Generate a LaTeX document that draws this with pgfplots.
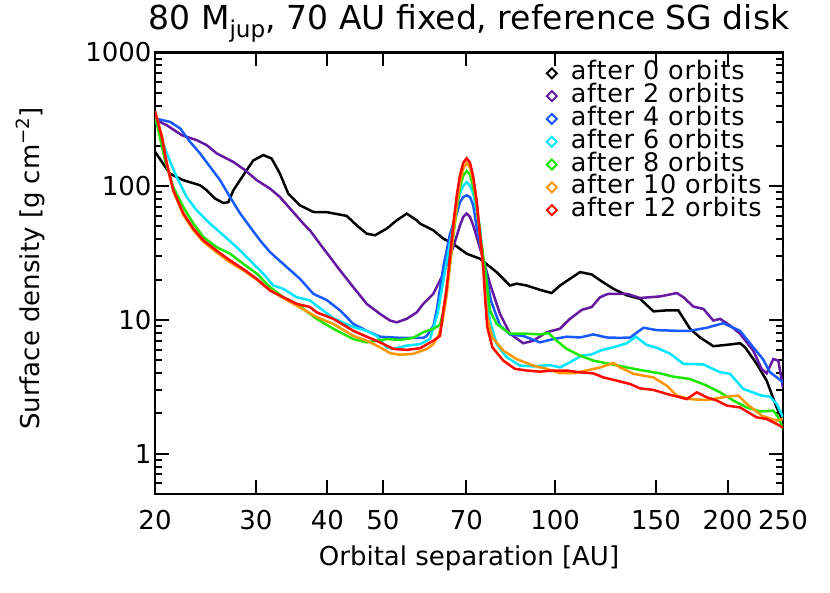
\documentclass[border=0pt]{standalone}
\usepackage{fontspec}
\setmainfont{DejaVu Sans}
\newfontfamily\legfont[LetterSpace=3]{DejaVu Sans}
\usepackage{pgfplots}
\pgfplotsset{compat=1.18}
\definecolor{cpurple}{RGB}{100,25,160}
\definecolor{cblue}{RGB}{25,90,255}
\definecolor{ccyan}{RGB}{0,230,255}
\definecolor{cgreen}{RGB}{30,230,0}
\definecolor{corange}{RGB}{255,150,0}
\definecolor{cred}{RGB}{255,10,0}
\begin{document}
\begin{tikzpicture}
\begin{axis}[
 scale only axis, width=628pt, height=441.5pt,
 xmode=log, ymode=log,
 xmin=20, xmax=250, ymin=0.5, ymax=1000,
 xtick={20,30,40,50,70,100,150,200,250},
 xticklabels={20,30,40,50,70,100,150,200,250},
 ytick={1,10,100,1000}, yticklabels={1,10,100,1000},
 minor ytick={0.5,0.6,0.7,0.8,0.9,2,3,4,5,6,7,8,9,20,30,40,50,60,70,80,90,200,300,400,500,600,700,800,900},
 xminorticks=false,
 tick align=inside, xtick pos=both, ytick pos=both,
 major tick length=14pt, minor tick length=7pt,
 tick style={black, line width=2pt},
 axis line style={line width=2.5pt},
 tick label style={font=\fontsize{26}{26}\selectfont},
 xticklabel style={anchor=base, yshift=-36pt},
 title={80 M\textsubscript{jup}, 70 AU fixed, reference SG disk},
 title style={font=\fontsize{33}{33}\selectfont, at={(axis description cs:0.5,1.0396)}, anchor=base},
 xlabel={Orbital separation [AU]},
 xlabel style={font=\fontsize{26}{26}\selectfont, at={(axis description cs:0.5,-0.163)}, anchor=base},
 ylabel={Surface density [g cm\textsuperscript{−2}]},
 ylabel style={font=\fontsize{26}{26}\selectfont, at={(axis description cs:-0.1847,0.511)}, anchor=base, rotate=0},
 legend style={draw=none, fill=none, at={(0.622,0.979)}, anchor=north west, inner sep=0pt,
   font=\legfont\fontsize{25.5}{25.5}\selectfont, nodes={inner sep=1pt, text height=17pt, text depth=3.8pt},
   /tikz/every odd column/.append style={column sep=12pt}},
 legend cell align=left,
 legend image code/.code={\draw[#1, line width=2pt, fill=none] (0pt,5pt) -- (5pt,0pt) -- (0pt,-5pt) -- (-5pt,0pt) -- cycle;},
 every axis plot/.append style={line width=2.5pt, mark=none},
]
% after 0 orbits
\addplot[black] coordinates {
(20,181)(21.24,124)(22.41,111)(23.97,101.7)(24.62,93.3)(25.46,80.9)(26.32,75)(26.86,76)(27.40,93)(28.15,111)(28.92,132)(29.70,156)(30.92,171)(31.98,161)(33.06,124)(34.18,88)(35.84,72)(37.80,64.2)(39.89,64)(43.24,60)(45.01,51)(46.86,44.2)(48.45,43)(50.79,48.2)(52.87,55.6)(55.04,62.4)(57.30,55.6)(58.06,52.6)(61.26,46.8)(63.77,40.6)(66.38,37)(70.05,31.3)(73.89,28.7)(79.03,22.8)(83.38,18.1)(85.65,18.7)(89.16,18.1)(94.07,16.8)(98.60,15.9)(101.96,18.1)(106.1,20.3)(110.5,22.8)(115.8,21.9)(119.8,19.8)(126.4,17.1)(133.4,15.3)(140.7,14.4)(148.5,11.6)(156.6,11.8)(164.1,11.8)(172.0,8.6)(179.1,7.4)(188.9,6.37)(199.4,6.52)(210.3,6.7)(214.6,6.25)(224.9,4.7)(234.1,3.52)(243.7,2.22)(250,1.75)
};
% after 2 orbits
\addplot[cpurple] coordinates {
(20,315)(20.96,286)(22.27,241)(23.65,221)(24.62,203)(25.63,176)(27.40,152)(28.72,132)(30.11,111)(31.76,96)(33.06,83)(34.65,66)(36.31,52.6)(37.30,46.8)(38.84,37)(40.43,29.5)(42.09,23.5)(44.40,17.6)(46.86,13.2)(49.44,11.1)(51.47,9.9)(52.87,9.6)(55.04,10.2)(57.30,11.4)(58.84,13.2)(61.26,15.7)(63.77,22.2)(66.38,35)(68.19,51)(69.1,59)(70.05,62.5)(71.0,59)(71.93,51)(74.40,31.3)(76.93,18.7)(80.09,11.1)(83.38,7.9)(87.95,6.7)(91.56,7.0)(96.64,8.1)(101.96,8.6)(106.1,10.2)(111.3,11.9)(115.8,12.5)(119.8,14.8)(123.8,15.7)(133.4,15.7)(140.7,14.6)(152.5,15.0)(163.1,15.9)(167.5,14.8)(174.3,12.6)(181.5,12.1)(188.9,9.9)(194.1,10.2)(202.0,9.1)(210.3,7.9)(221.8,5.9)(229.4,4.31)(234.1,3.99)(240.4,5.1)(245.3,4.97)(250,3.1)
};
% after 4 orbits
\addplot[cblue] coordinates {
(20,321)(21.24,303)(22.12,271)(23.02,215)(23.97,176)(24.95,140)(25.98,111)(27.04,83)(28.15,62.8)(29.31,49.6)(30.51,39.4)(31.76,32.2)(33.96,24.9)(35.84,20.3)(37.80,15.7)(39.89,14.1)(42.09,11.8)(44.40,9.35)(46.86,8.3)(49.44,7.5)(53.58,7.35)(58.84,7.35)(59.66,7.6)(61.26,9)(62.10,11.8)(63.77,24.9)(65.51,44.2)(67.3,62)(68.19,76)(69.1,83)(70.05,85.5)(71.0,83)(71.93,72)(72.92,49.6)(75.39,24.9)(77.2,14)(80.09,9.1)(83.38,7.8)(87.95,7.6)(94.07,6.8)(99.24,7.2)(104.74,7.5)(110.5,7.4)(116.6,7.8)(123.0,7.4)(129.8,7.35)(135.2,7.4)(142.6,8.75)(150.4,8.4)(163.1,8.3)(172.0,8.3)(184.0,8.75)(196.7,9.46)(210.3,8.3)(221.8,6.25)(230.6,5.1)(237.2,4.07)(243.7,3.73)(250,3.42)
};
% after 6 orbits
\addplot[ccyan] coordinates {
(20,320)(20.96,176)(21.82,117)(22.72,83)(23.65,66)(24.95,52.6)(26.32,43)(27.78,35)(29.31,27.9)(30.92,22.2)(32.18,18.1)(33.50,17.1)(35.36,14.8)(37.30,14.0)(38.32,12.8)(40.97,10.3)(44.40,8.85)(46.86,8.3)(48.78,7.6)(50.79,6.25)(52.16,6.08)(55.04,6.43)(58.06,6.6)(60.45,7.2)(62.3,11.1)(64.4,24.9)(66.38,52)(67.3,72)(68.19,88)(69.1,101)(70.05,107)(71.0,101)(71.93,88)(73.89,49.6)(75.39,18.7)(76.93,9.9)(79.03,6.6)(82.27,5.27)(86.80,4.56)(91.56,4.5)(97.93,4.6)(101.96,4.42)(106.1,4.83)(111.3,5.42)(115.8,5.52)(119.8,5.9)(126.4,6.25)(133.4,6.7)(138.3,7.5)(144.6,6.5)(150.4,6.2)(158.7,5.6)(167.5,4.7)(181.5,4.65)(194.1,4.07)(202.0,3.96)(213.1,3.05)(229.4,2.72)(237.2,2.67)(243.7,2.36)(250,1.87)
};
% after 8 orbits
\addplot[cgreen] coordinates {
(20,340)(20.82,156)(21.53,98)(22.41,70)(23.33,52.6)(24.29,41.7)(25.63,35)(27.04,31.3)(28.53,26.3)(30.11,22.2)(31.76,17.6)(33.50,14.8)(35.36,13.2)(38.32,10.2)(40.97,8.6)(44.40,7.2)(46.86,6.8)(48.78,7.0)(50.79,7.2)(53.58,7.1)(56.52,7.35)(58.84,8.1)(61.26,8.6)(62.93,9.2)(63.77,11.5)(64.6,17)(65.51,26)(66.38,42)(67.3,68)(68.19,98)(69.1,120)(70.05,130)(71.0,122)(71.93,98)(72.92,72)(73.4,55.6)(74.4,36)(75.39,24.9)(76.93,11.8)(79.03,9.35)(83.38,7.9)(89.16,7.9)(94.07,7.8)(97.3,8.0)(100.6,7.0)(104.74,6.08)(110.5,5.42)(116.6,4.97)(123.0,4.74)(133.4,4.42)(140.7,4.23)(152.5,3.99)(160.8,3.77)(172.0,3.62)(184.0,3.23)(194.1,2.88)(204.7,2.5)(216.0,2.22)(227.9,2.07)(240.4,2.1)(245.3,1.87)(250,1.53)
};
% after 10 orbits
\addplot[corange] coordinates {
(20,365)(20.55,240)(20.96,150)(21.53,92)(22.41,61)(23.33,47)(24.29,38.5)(25.63,32)(27.04,27)(28.53,23.5)(30.11,20)(31.76,16.8)(33.50,14.6)(35.36,12.8)(38.32,10.5)(40.97,9.35)(44.40,7.6)(46.86,7.0)(49.44,6.25)(51.47,5.64)(53.58,5.5)(56.52,5.58)(59.66,6.08)(61.26,6.6)(62.5,7.6)(63.5,9.5)(64.6,15)(65.51,26)(66.38,44)(67.3,72)(68.19,108)(69.1,136)(70.05,149)(71.0,138)(71.93,110)(72.92,76)(73.89,44)(74.9,24)(76.1,10.5)(77.7,7.4)(81.16,5.9)(85.65,5.1)(91.56,4.56)(96.64,4.31)(101.96,4.0)(107.6,4.0)(113.5,4.19)(119.8,4.42)(126.4,4.77)(129.8,4.42)(137.0,3.96)(148.5,3.72)(156.6,3.23)(163.1,2.72)(172.0,2.56)(184.0,2.52)(199.4,2.67)(208.9,2.72)(216.0,2.36)(229.4,1.93)(243.7,1.77)(250,1.82)
};
% after 12 orbits
\addplot[cred] coordinates {
(20,362)(20.55,234)(20.96,148)(21.53,93)(22.41,62.8)(23.33,48.2)(24.29,39.4)(25.63,33)(27.04,27.9)(28.53,24)(30.11,20.3)(31.76,16.6)(33.50,14.8)(35.36,13.2)(37.30,12.5)(38.32,11.4)(40.97,10.2)(44.40,8.3)(46.86,7.5)(49.44,6.8)(52.16,6.08)(55.04,5.98)(58.06,6.15)(61.26,7.0)(62.93,7.6)(63.77,11.8)(64.6,17)(65.51,30)(66.38,52)(67.3,85)(68.19,120)(69.1,150)(70.05,162)(71.0,150)(71.93,118)(72.92,78)(73.89,44)(74.9,24.9)(75.5,14)(76.1,8.85)(77.7,6.25)(81.16,4.97)(85.07,4.31)(89.16,4.19)(94.07,4.11)(99.24,4.19)(104.74,4.19)(110.5,4.06)(116.6,3.99)(121.4,3.72)(128.1,3.52)(135.2,3.32)(140.7,3.08)(148.5,3.0)(156.6,2.8)(165.3,2.64)(169.8,2.56)(176.7,2.88)(184.0,2.64)(191.5,2.5)(199.4,2.29)(210.3,2.22)(224.9,1.87)(234.1,1.82)(243.7,1.67)(250,1.57)
};
\legend{after 0 orbits, after 2 orbits, after 4 orbits, after 6 orbits, after 8 orbits, after 10 orbits, after 12 orbits}
\end{axis}
\path[use as bounding box] (-155pt,-99pt) rectangle (675pt,494pt);
\end{tikzpicture}
\end{document}
